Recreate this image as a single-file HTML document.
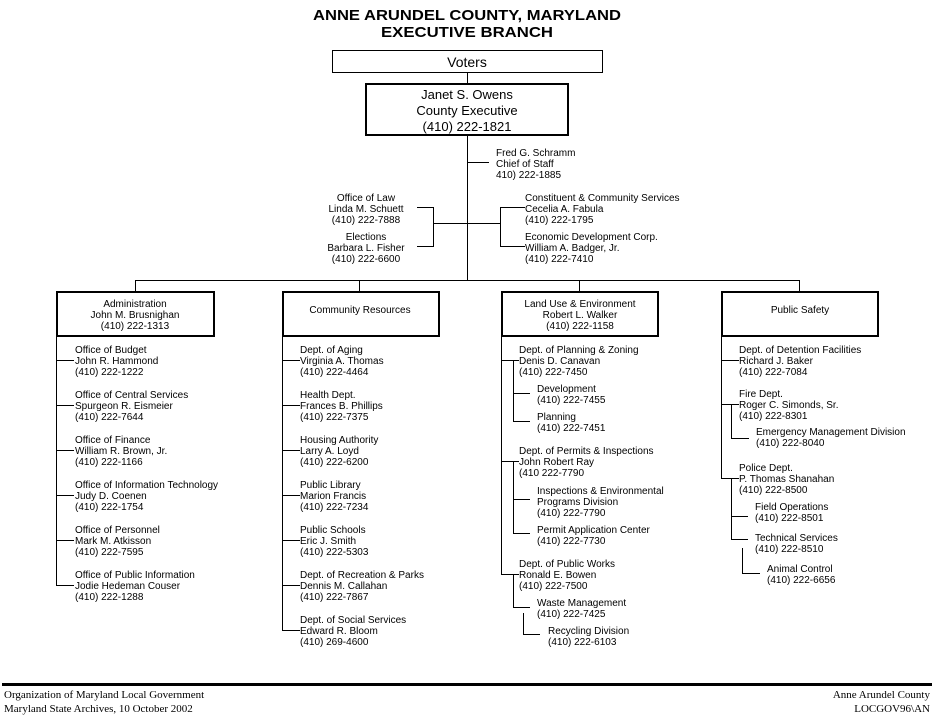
<!DOCTYPE html>
<html><head><meta charset="utf-8"><style>
html,body{margin:0;padding:0;background:#fff;}
svg{display:block;}
text{font-family:"Liberation Sans",Arial,sans-serif;font-size:10px;fill:#000;}
.s{font-family:"Liberation Serif",serif;font-size:11px;}
.b13{font-size:13px;}
</style></head><body>
<svg width="934" height="719" viewBox="0 0 934 719" xmlns="http://www.w3.org/2000/svg">
<g stroke="#000" stroke-width="1" fill="none" shape-rendering="crispEdges">
<rect x="332.5" y="50.5" width="270" height="22"/>
<rect x="366" y="84" width="202" height="51" stroke-width="2"/>
<line x1="467.5" y1="72" x2="467.5" y2="84"/>
<line x1="467.5" y1="135" x2="467.5" y2="280"/>
<line x1="467" y1="162.5" x2="489" y2="162.5"/>
<line x1="417" y1="207.5" x2="433" y2="207.5"/>
<line x1="417" y1="246.5" x2="433" y2="246.5"/>
<line x1="433.5" y1="207" x2="433.5" y2="247"/>
<line x1="433" y1="223.5" x2="467" y2="223.5"/>
<line x1="467" y1="223.5" x2="500" y2="223.5"/>
<line x1="500.5" y1="207" x2="500.5" y2="247"/>
<line x1="500" y1="207.5" x2="525" y2="207.5"/>
<line x1="500" y1="246.5" x2="525" y2="246.5"/>
<line x1="135" y1="280.5" x2="800" y2="280.5"/>
<line x1="135.5" y1="280" x2="135.5" y2="292"/>
<line x1="359.5" y1="280" x2="359.5" y2="292"/>
<line x1="579.5" y1="280" x2="579.5" y2="292"/>
<line x1="799.5" y1="280" x2="799.5" y2="292"/>
<rect x="57" y="292" width="157" height="44" stroke-width="2"/>
<rect x="283" y="292" width="156" height="44" stroke-width="2"/>
<rect x="502" y="292" width="156" height="44" stroke-width="2"/>
<rect x="722" y="292" width="156" height="44" stroke-width="2"/>
<line x1="56.5" y1="336" x2="56.5" y2="585"/>
<path d="M56 360.5H74M56 405.5H74M56 450.5H74M56 495.5H74M56 540.5H74M56 585.5H74"/>
<line x1="282.5" y1="336" x2="282.5" y2="630"/>
<path d="M282 360.5H300M282 405.5H300M282 450.5H300M282 495.5H300M282 540.5H300M282 585.5H300M282 630.5H300"/>
<line x1="501.5" y1="336" x2="501.5" y2="574"/>
<path d="M501 360.5H519M501 461.5H519M501 574.5H519"/>
<path d="M513.5 360V421M513 393.5H530M513 421.5H530"/>
<path d="M513.5 461V533M513 499.5H530M513 533.5H530"/>
<path d="M513.5 574V607M513 607.5H530"/>
<path d="M523.5 613V634M523 634.5H540"/>
<line x1="721.5" y1="336" x2="721.5" y2="478"/>
<path d="M721 360.5H739M721 404.5H739M721 478.5H739"/>
<path d="M731.5 404V438M731 438.5H749"/>
<path d="M731.5 478V539M731 516.5H748M731 539.5H748"/>
<path d="M742.5 548V573M742 573.5H760"/>
</g>
<rect x="2" y="683" width="930" height="3" fill="#000"/>

<text x="467" y="20" text-anchor="middle" style="font-size:15px;font-weight:bold" textLength="308" lengthAdjust="spacingAndGlyphs">ANNE ARUNDEL COUNTY, MARYLAND</text>
<text x="467" y="37" text-anchor="middle" style="font-size:15px;font-weight:bold" textLength="172" lengthAdjust="spacingAndGlyphs">EXECUTIVE BRANCH</text>
<text x="467" y="67" text-anchor="middle" style="font-size:14px">Voters</text>
<text x="467" y="99" text-anchor="middle" style="font-size:13px">Janet S. Owens</text>
<text x="467" y="115" text-anchor="middle" style="font-size:13px">County Executive</text>
<text x="467" y="131" text-anchor="middle" style="font-size:13px">(410) 222-1821</text>
<g>
<text x="496" y="156">Fred G. Schramm</text><text x="496" y="167">Chief of Staff</text><text x="496" y="178">410) 222-1885</text>
<text x="525" y="201">Constituent &amp; Community Services</text><text x="525" y="212">Cecelia A. Fabula</text><text x="525" y="223">(410) 222-1795</text>
<text x="525" y="240">Economic Development Corp.</text><text x="525" y="251">William A. Badger, Jr.</text><text x="525" y="262">(410) 222-7410</text>
</g>
<g text-anchor="middle">
<text x="366" y="201">Office of Law</text><text x="366" y="212">Linda M. Schuett</text><text x="366" y="223">(410) 222-7888</text>
<text x="366" y="240">Elections</text><text x="366" y="251">Barbara L. Fisher</text><text x="366" y="262">(410) 222-6600</text>
<text x="135" y="307">Administration</text><text x="135" y="318">John M. Brusnighan</text><text x="135" y="329">(410) 222-1313</text>
<text x="360" y="313">Community Resources</text>
<text x="580" y="307">Land Use &amp; Environment</text><text x="580" y="318">Robert L. Walker</text><text x="580" y="329">(410) 222-1158</text>
<text x="800" y="313">Public Safety</text>
</g>
<g>
<text x="75" y="353">Office of Budget</text><text x="75" y="364">John R. Hammond</text><text x="75" y="375">(410) 222-1222</text>
<text x="75" y="398">Office of Central Services</text><text x="75" y="409">Spurgeon R. Eismeier</text><text x="75" y="420">(410) 222-7644</text>
<text x="75" y="443">Office of Finance</text><text x="75" y="454">William R. Brown, Jr.</text><text x="75" y="465">(410) 222-1166</text>
<text x="75" y="488">Office of Information Technology</text><text x="75" y="499">Judy D. Coenen</text><text x="75" y="510">(410) 222-1754</text>
<text x="75" y="533">Office of Personnel</text><text x="75" y="544">Mark M. Atkisson</text><text x="75" y="555">(410) 222-7595</text>
<text x="75" y="578">Office of Public Information</text><text x="75" y="589">Jodie Hedeman Couser</text><text x="75" y="600">(410) 222-1288</text>

<text x="300" y="353">Dept. of Aging</text><text x="300" y="364">Virginia A. Thomas</text><text x="300" y="375">(410) 222-4464</text>
<text x="300" y="398">Health Dept.</text><text x="300" y="409">Frances B. Phillips</text><text x="300" y="420">(410) 222-7375</text>
<text x="300" y="443">Housing Authority</text><text x="300" y="454">Larry A. Loyd</text><text x="300" y="465">(410) 222-6200</text>
<text x="300" y="488">Public Library</text><text x="300" y="499">Marion Francis</text><text x="300" y="510">(410) 222-7234</text>
<text x="300" y="533">Public Schools</text><text x="300" y="544">Eric J. Smith</text><text x="300" y="555">(410) 222-5303</text>
<text x="300" y="578">Dept. of Recreation &amp; Parks</text><text x="300" y="589">Dennis M. Callahan</text><text x="300" y="600">(410) 222-7867</text>
<text x="300" y="623">Dept. of Social Services</text><text x="300" y="634">Edward R. Bloom</text><text x="300" y="645">(410) 269-4600</text>

<text x="519" y="353">Dept. of Planning &amp; Zoning</text><text x="519" y="364">Denis D. Canavan</text><text x="519" y="375">(410) 222-7450</text>
<text x="537" y="392">Development</text><text x="537" y="403">(410) 222-7455</text>
<text x="537" y="420">Planning</text><text x="537" y="431">(410) 222-7451</text>
<text x="519" y="454">Dept. of Permits &amp; Inspections</text><text x="519" y="465">John Robert Ray</text><text x="519" y="476">(410 222-7790</text>
<text x="537" y="494">Inspections &amp; Environmental</text><text x="537" y="505">Programs Division</text><text x="537" y="516">(410) 222-7790</text>
<text x="537" y="533">Permit Application Center</text><text x="537" y="544">(410) 222-7730</text>
<text x="519" y="567">Dept. of Public Works</text><text x="519" y="578">Ronald E. Bowen</text><text x="519" y="589">(410) 222-7500</text>
<text x="537" y="606">Waste Management</text><text x="537" y="617">(410) 222-7425</text>
<text x="548" y="634">Recycling Division</text><text x="548" y="645">(410) 222-6103</text>

<text x="739" y="353">Dept. of Detention Facilities</text><text x="739" y="364">Richard J. Baker</text><text x="739" y="375">(410) 222-7084</text>
<text x="739" y="397">Fire Dept.</text><text x="739" y="408">Roger C. Simonds, Sr.</text><text x="739" y="419">(410) 222-8301</text>
<text x="756" y="435">Emergency Management Division</text><text x="756" y="446">(410) 222-8040</text>
<text x="739" y="471">Police Dept.</text><text x="739" y="482">P. Thomas Shanahan</text><text x="739" y="493">(410) 222-8500</text>
<text x="755" y="510">Field Operations</text><text x="755" y="521">(410) 222-8501</text>
<text x="755" y="541">Technical Services</text><text x="755" y="552">(410) 222-8510</text>
<text x="767" y="572">Animal Control</text><text x="767" y="583">(410) 222-6656</text>
</g>
<text class="s" x="4" y="698">Organization of Maryland Local Government</text>
<text class="s" x="4" y="712">Maryland State Archives, 10 October 2002</text>
<text class="s" x="930" y="698" text-anchor="end">Anne Arundel County</text>
<text class="s" x="930" y="712" text-anchor="end">LOCGOV96\AN</text>
</svg>
</body></html>
